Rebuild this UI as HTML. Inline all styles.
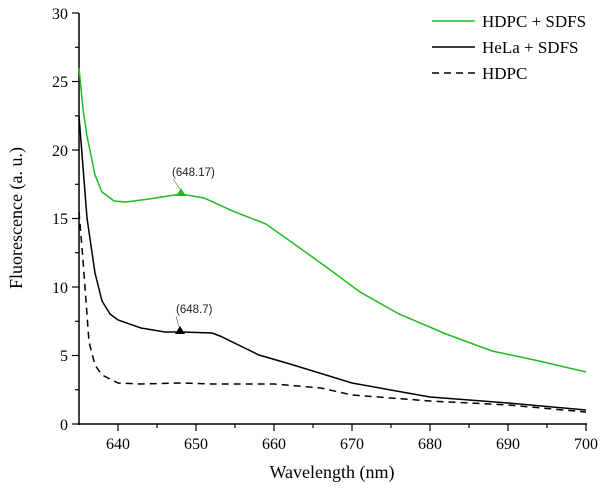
<!DOCTYPE html>
<html><head><style>body{margin:0;background:#fff}</style></head><body>
<svg width="606" height="494" xmlns="http://www.w3.org/2000/svg" font-family="Liberation Serif, serif">
<rect width="606" height="494" fill="#fff"/>
<g stroke="#000" stroke-width="1.5" fill="none">
<line x1="79" y1="13" x2="79" y2="425"/>
<line x1="78" y1="424" x2="587" y2="424"/>
</g>
<g stroke="#000" stroke-width="1.2">
<line x1="72" y1="424" x2="79" y2="424"/><line x1="72" y1="355.5" x2="79" y2="355.5"/><line x1="72" y1="287" x2="79" y2="287"/><line x1="72" y1="218.5" x2="79" y2="218.5"/><line x1="72" y1="150" x2="79" y2="150"/><line x1="72" y1="81.5" x2="79" y2="81.5"/><line x1="72" y1="13" x2="79" y2="13"/>
<line x1="75" y1="389.8" x2="79" y2="389.8"/><line x1="75" y1="321.3" x2="79" y2="321.3"/><line x1="75" y1="252.8" x2="79" y2="252.8"/><line x1="75" y1="184.3" x2="79" y2="184.3"/><line x1="75" y1="115.8" x2="79" y2="115.8"/><line x1="75" y1="47.3" x2="79" y2="47.3"/>
<line x1="118" y1="424" x2="118" y2="431"/><line x1="196" y1="424" x2="196" y2="431"/><line x1="274" y1="424" x2="274" y2="431"/><line x1="352" y1="424" x2="352" y2="431"/><line x1="430" y1="424" x2="430" y2="431"/><line x1="508" y1="424" x2="508" y2="431"/><line x1="586" y1="424" x2="586" y2="431"/>
<line x1="157" y1="424" x2="157" y2="428"/><line x1="235" y1="424" x2="235" y2="428"/><line x1="313" y1="424" x2="313" y2="428"/><line x1="391" y1="424" x2="391" y2="428"/><line x1="469" y1="424" x2="469" y2="428"/><line x1="547" y1="424" x2="547" y2="428"/>
</g>
<g font-size="16" text-anchor="end">
<text x="68" y="430">0</text><text x="68" y="361">5</text><text x="68" y="293">10</text><text x="68" y="224">15</text><text x="68" y="156">20</text><text x="68" y="87">25</text><text x="68" y="19">30</text>
</g>
<g font-size="16" text-anchor="middle">
<text x="118" y="449">640</text><text x="196" y="449">650</text><text x="274" y="449">660</text><text x="352" y="449">670</text><text x="430" y="449">680</text><text x="508" y="449">690</text><text x="586" y="449">700</text>
<text x="332" y="478" font-size="18">Wavelength (nm)</text>
</g>
<text transform="translate(22,218) rotate(-90)" font-size="18" text-anchor="middle">Fluorescence (a. u.)</text>
<polyline fill="none" stroke="#22bb22" stroke-width="1.5" points="79,68 83,109 87,136 95,175 102,192 114,201 126,202 149,199 181,194 204,198 235,212 266,224 297,246 329,269 360,292 399,314 446,334 492,351 539,361 586,372"/>
<polyline fill="none" stroke="#000" stroke-width="1.5" points="79,116 87,218 95,273 102,301 110,314 118,320 141,328 165,332 181,332 212,333 220,336 259,355 290,364 352,383 430,397 508,403 586,410"/>
<polyline fill="none" stroke="#000" stroke-width="1.5" stroke-dasharray="7,5" points="79,212 83,260 89,342 95,365 102,375 118,383 141,384 181,383 212,384 274,384 321,388 352,395 430,401 508,405 586,412"/>
<polygon points="181,188 176,196 186,196" fill="#22bb22"/>
<polygon points="180,326 175,334 185,334" fill="#000"/>
<g font-family="Liberation Sans, sans-serif" font-size="11.5" fill="#222">
<text x="172" y="176">(648.17)</text><text x="176" y="313">(648.7)</text>
</g>
<line x1="173" y1="179" x2="180" y2="189" stroke="#555" stroke-width="0.6"/>
<line x1="176" y1="316" x2="179" y2="327" stroke="#555" stroke-width="0.6"/>
<line x1="432" y1="21" x2="475" y2="21" stroke="#22bb22" stroke-width="1.5"/>
<line x1="432" y1="47" x2="475" y2="47" stroke="#000" stroke-width="1.5"/>
<line x1="432" y1="73" x2="475" y2="73" stroke="#000" stroke-width="1.5" stroke-dasharray="7,5"/>
<g font-size="17">
<text x="482" y="27">HDPC + SDFS</text><text x="482" y="53">HeLa + SDFS</text><text x="482" y="79">HDPC</text>
</g>
</svg>
</body></html>
